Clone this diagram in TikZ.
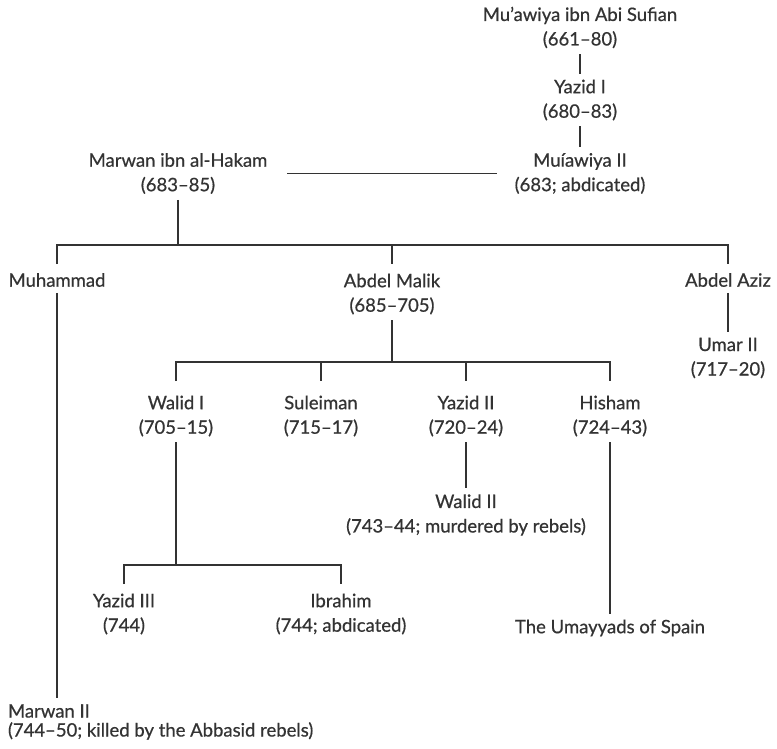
\documentclass[tikz,border=0pt]{standalone}
\usepackage{fontspec}
\setmainfont{Lato}[FakeBold=0.6]
\definecolor{ink}{HTML}{333333}
\begin{document}
\begin{tikzpicture}[x=1pt,y=-1pt,
  person/.style={text=ink, align=center, inner sep=0pt, outer xsep=0pt, outer ysep=6pt,
    font=\fontsize{18.5}{24.5}\selectfont},
  link/.style={draw=ink, line width=1.3pt}]
\useasboundingbox (0,0) rectangle (777,749);
% people
\node[person] (muawiya)  at (580,27.5) {Mu’awiya ibn Abi Sufian\\(661–80)};
\node[person] (yazid1)   at (580,100)  {Yazid I\\(680–83)};
\node[person] (muawiya2) at (580,173.5){Muíawiya II\\(683; abdicated)};
\node[person] (marwan)   at (178,173.5){Marwan ibn al-Hakam\\(683–85)};
\node[person] (muhammad) at (57,280)   {Muhammad};
\node[person] (abdelmalik) at (392,294){Abdel Malik\\(685–705)};
\node[person] (abdelaziz) at (728,280) {Abdel Aziz};
\node[person] (umar2)    at (728,358)  {Umar II\\(717–20)};
\node[person] (walid1)   at (176,416)  {Walid I\\(705–15)};
\node[person] (suleiman) at (321,416)  {Suleiman\\(715–17)};
\node[person] (yazid2)   at (466,416)  {Yazid II\\(720–24)};
\node[person] (hisham)   at (610,416)  {Hisham\\(724–43)};
\node[person] (walid2)   at (466,515)  {Walid II\\(743–44; murdered by rebels)};
\node[person] (yazid3)   at (124,614)  {Yazid III\\(744)};
\node[person] (ibrahim)  at (341,614)  {Ibrahim\\(744; abdicated)};
\node[person] (umayyads) at (610,628)  {The Umayyads of Spain};
\node[person, align=left, anchor=west, font=\fontsize{18.5}{19}\selectfont] (marwan2) at (8,722) {Marwan II\\(744–50; killed by the Abbasid rebels)};
% buses
\coordinate (bus1) at (0,245);
\coordinate (bus2) at (0,362);
\coordinate (bus3) at (0,565);
% connectors
\draw[link] (muawiya) -- (yazid1);
\draw[link] (yazid1) -- (muawiya2);
\draw[link] ([xshift=109pt]marwan.center) -- ([xshift=-83pt]muawiya2.center);
\draw[link] (marwan.south) -- (marwan.south |- bus1);
\draw[link] (muhammad.north |- bus1) ++(0,19) -- (muhammad.north |- bus1) -- (abdelaziz.north |- bus1) -- ++(0,19);
\draw[link] (abdelmalik.north |- bus1) -- ++(0,19);
\draw[link] (muhammad.south) -- (muhammad.south |- marwan2.north);
\draw[link] (abdelmalik.south) -- (abdelmalik.south |- bus2);
\draw[link] (walid1.north |- bus2) ++(0,19) -- (walid1.north |- bus2) -- (hisham.north |- bus2) -- ++(0,19);
\draw[link] (suleiman.north |- bus2) -- ++(0,19);
\draw[link] (yazid2.north |- bus2) -- ++(0,19);
\draw[link] (abdelaziz) -- (umar2);
\draw[link] (yazid2) -- (walid2);
\draw[link] (hisham) -- (umayyads);
\draw[link] (walid1.south) -- (walid1.south |- bus3);
\draw[link] (yazid3.north |- bus3) ++(0,19) -- (yazid3.north |- bus3) -- (ibrahim.north |- bus3) -- ++(0,19);
\end{tikzpicture}
\end{document}
